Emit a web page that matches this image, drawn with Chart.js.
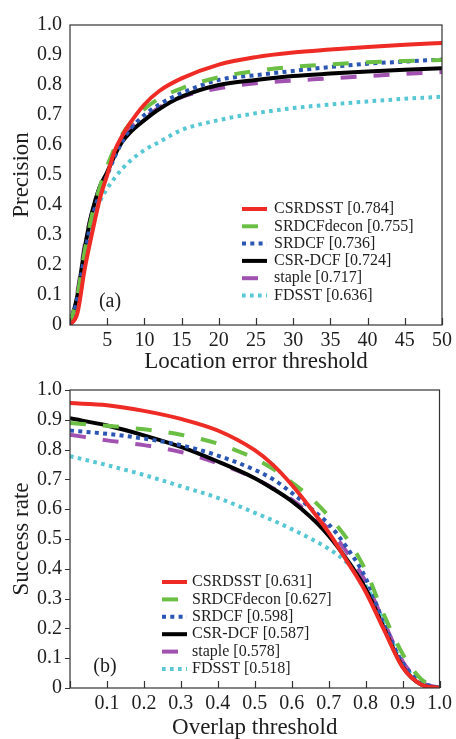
<!DOCTYPE html>
<html>
<head>
<meta charset="utf-8">
<script src="https://cdn.jsdelivr.net/npm/chart.js@4.4.0/dist/chart.umd.min.js"></script>
<style>
  html, body { margin: 0; padding: 0; background: #fff; }
  body { width: 456px; height: 739px; position: relative; overflow: hidden; }
  #wrapA { position: absolute; left: 0; top: 0; width: 456px; height: 378px; }
  #wrapB { position: absolute; left: 0; top: 370px; width: 456px; height: 369px; }
</style>
</head>
<body>
<div id="wrapA"><canvas id="precisionChart" width="456" height="378"></canvas></div>
<div id="wrapB"><canvas id="successChart" width="456" height="369"></canvas></div>
<script>
// trackers, in legend order
const trackers = ['CSRDSST', 'SRDCFdecon', 'SRDCF', 'CSR-DCF', 'staple', 'FDSST'];

// (a) precision plot
const precisionScores = ['0.784', '0.755', '0.736', '0.724', '0.717', '0.636'];
const errorThresholds = [0, 1, 2, 3, 4, 5, 6, 7, 8, 10, 12, 15, 20, 25, 30, 35, 40, 45, 50];
const precCSRDSST    = [0, 0.04, 0.19, 0.31, 0.42, 0.50, 0.58, 0.63, 0.67, 0.735, 0.78, 0.822, 0.868, 0.893, 0.908, 0.918, 0.927, 0.934, 0.940];
const precSRDCFdecon = [0, 0.10, 0.25, 0.37, 0.46, 0.53, 0.59, 0.635, 0.67, 0.72, 0.755, 0.789, 0.826, 0.847, 0.861, 0.869, 0.876, 0.880, 0.883];
const precSRDCF      = [0, 0.09, 0.24, 0.36, 0.44, 0.50, 0.56, 0.61, 0.65, 0.70, 0.735, 0.773, 0.817, 0.833, 0.847, 0.860, 0.871, 0.878, 0.885];
const precCSRDCF     = [0, 0.10, 0.26, 0.38, 0.46, 0.51, 0.565, 0.61, 0.64, 0.683, 0.72, 0.761, 0.800, 0.817, 0.830, 0.838, 0.845, 0.851, 0.856];
const precStaple     = [0, 0.11, 0.27, 0.38, 0.46, 0.51, 0.57, 0.62, 0.655, 0.69, 0.725, 0.760, 0.789, 0.806, 0.815, 0.822, 0.830, 0.837, 0.843];
const precFDSST      = [0, 0.09, 0.23, 0.34, 0.41, 0.455, 0.49, 0.52, 0.545, 0.583, 0.61, 0.650, 0.683, 0.706, 0.723, 0.735, 0.745, 0.754, 0.761];

// (b) success plot
const successScores = ['0.631', '0.627', '0.598', '0.587', '0.578', '0.518'];
const overlapThresholds = [0, 0.1, 0.2, 0.3, 0.4, 0.5, 0.55, 0.6, 0.65, 0.7, 0.75, 0.8, 0.85, 0.9, 0.95, 1.0];
const succCSRDSST    = [0.956, 0.949, 0.930, 0.903, 0.864, 0.798, 0.748, 0.682, 0.605, 0.522, 0.425, 0.323, 0.195, 0.070, 0.012, 0];
const succSRDCFdecon = [0.889, 0.880, 0.868, 0.850, 0.820, 0.770, 0.735, 0.690, 0.640, 0.577, 0.500, 0.395, 0.245, 0.115, 0.030, 0];
const succSRDCF      = [0.864, 0.853, 0.837, 0.815, 0.780, 0.732, 0.700, 0.655, 0.605, 0.550, 0.470, 0.370, 0.215, 0.085, 0.020, 0];
const succCSRDCF     = [0.905, 0.881, 0.848, 0.809, 0.760, 0.704, 0.668, 0.627, 0.575, 0.511, 0.430, 0.334, 0.200, 0.072, 0.012, 0];
const succStaple     = [0.850, 0.831, 0.815, 0.792, 0.754, 0.704, 0.670, 0.632, 0.585, 0.533, 0.455, 0.357, 0.220, 0.090, 0.020, 0];
const succFDSST      = [0.778, 0.748, 0.715, 0.677, 0.638, 0.588, 0.562, 0.533, 0.502, 0.467, 0.420, 0.345, 0.220, 0.082, 0.020, 0];

const serif = '"Liberation Serif", "DejaVu Serif", serif';
const ink = '#1e1e1e';

// line looks per tracker
const lineStyles = [
    { color: '#ee2b25', dash: [] },
    { color: '#6bbf45', dash: [16, 17] },
    { color: '#2b56b3', dash: [4, 4.3] },
    { color: '#000000', dash: [] },
    { color: '#a152b0', dash: [16, 17] },
    { color: '#56c7d3', dash: [3.6, 4.4] }
];

function makeDatasets(xs, series, scores) {
    return series.map((ys, i) => ({
        label: trackers[i] + ' [' + scores[i] + ']',
        data: xs.map((x, k) => ({ x: x, y: ys[k] })),
        borderColor: lineStyles[i].color,
        borderDash: lineStyles[i].dash,
        borderWidth: 4,
        borderCapStyle: 'butt',
        pointRadius: 0,
        fill: false,
        cubicInterpolationMode: 'monotone'
    }));
}

// box, inward x ticks, legend inside the plot and the panel tag
const framePlugin = {
    id: 'frame',
    afterDatasetsDraw(chart, args, opts) {
        const ctx = chart.ctx;
        const a = chart.chartArea;
        const xs = chart.scales.x;
        const ys = chart.scales.y;
        ctx.save();
        ctx.strokeStyle = '#333';
        ctx.lineWidth = 1.2;
        ctx.setLineDash([]);
        ctx.strokeRect(a.left, a.top, a.right - a.left, a.bottom - a.top);

        ctx.beginPath();
        xs.ticks.forEach(t => {
            const px = Math.round(xs.getPixelForValue(t.value)) + 0.5;
            ctx.moveTo(px, a.bottom);
            ctx.lineTo(px, a.bottom - opts.tickLen);
        });
        if (opts.yTickOut) {
            ys.ticks.forEach(t => {
                const py = Math.round(ys.getPixelForValue(t.value)) + 0.5;
                ctx.moveTo(a.left, py);
                ctx.lineTo(a.left - opts.yTickOut, py);
            });
        }
        ctx.stroke();

        // legend
        ctx.font = '16px ' + serif;
        ctx.textBaseline = 'middle';
        ctx.textAlign = 'left';
        chart.data.datasets.forEach((ds, i) => {
            const y = a.top + opts.legendY + i * opts.rowGap;
            const x0 = a.left + opts.legendX;
            ctx.strokeStyle = ds.borderColor;
            ctx.lineWidth = 4;
            ctx.lineCap = 'butt';
            ctx.setLineDash(ds.borderDash);
            ctx.beginPath();
            ctx.moveTo(x0, y);
            ctx.lineTo(x0 + 25, y);
            ctx.stroke();
            ctx.setLineDash([]);
            ctx.fillStyle = ink;
            ctx.fillText(ds.label, x0 + opts.textGap, y);
        });

        ctx.font = '20px ' + serif;
        ctx.textAlign = 'center';
        ctx.fillText(opts.tag, a.left + opts.tagX, a.top + opts.tagY);
        ctx.restore();
    }
};

function buildOptions(cfg) {
    return {
        responsive: false,
        animation: false,
        layout: { padding: cfg.padding },
        plugins: {
            legend: { display: false },
            tooltip: { enabled: false },
            frame: cfg.frame
        },
        scales: {
            x: {
                type: 'linear',
                min: cfg.xMin,
                max: cfg.xMax,
                grid: { display: false, drawTicks: false },
                border: { display: false },
                ticks: {
                    stepSize: cfg.xStep,
                    autoSkip: false,
                    maxRotation: 0,
                    padding: 4,
                    color: ink,
                    font: { family: serif, size: 20 },
                    callback: cfg.xLabel
                },
                title: {
                    display: true,
                    text: cfg.xTitle,
                    color: ink,
                    font: { family: serif, size: 23, lineHeight: 1 },
                    padding: { top: 0, bottom: cfg.xTitlePad }
                },
                afterFit: s => { s.height = cfg.xHeight; }
            },
            y: {
                min: 0,
                max: 1,
                grid: { display: false, drawTicks: false },
                border: { display: false },
                ticks: {
                    stepSize: 0.1,
                    padding: 8,
                    color: ink,
                    font: { family: serif, size: 20 },
                    callback: v => v === 0 ? '0' : Number(v).toFixed(1)
                },
                title: {
                    display: true,
                    text: cfg.yTitle,
                    color: ink,
                    font: { family: serif, size: 23, lineHeight: 1 },
                    padding: { top: 10.5, bottom: 0 }
                },
                afterFit: s => { s.width = 70; }
            }
        }
    };
}

new Chart(document.getElementById('precisionChart').getContext('2d'), {
    type: 'line',
    data: {
        datasets: makeDatasets(errorThresholds,
            [precCSRDSST, precSRDCFdecon, precSRDCF, precCSRDCF, precStaple, precFDSST],
            precisionScores)
    },
    options: buildOptions({
        padding: { top: 25, right: 12, left: 0, bottom: 0 },
        xMin: 0, xMax: 50, xStep: 5,
        xLabel: v => v === 0 ? '' : String(v),
        xTitle: 'Location error threshold',
        xTitlePad: 4.5,
        xHeight: 53,
        yTitle: 'Precision',
        frame: { tickLen: 7, yTickOut: 0, legendX: 172, legendY: 184, rowGap: 17.3, textGap: 32, tag: '(a)', tagX: 40, tagY: 277 }
    }),
    plugins: [framePlugin]
});

new Chart(document.getElementById('successChart').getContext('2d'), {
    type: 'line',
    data: {
        datasets: makeDatasets(overlapThresholds,
            [succCSRDSST, succSRDCFdecon, succSRDCF, succCSRDCF, succStaple, succFDSST],
            successScores)
    },
    options: buildOptions({
        padding: { top: 16, right: 11, left: 0, bottom: 0 },
        xMin: 0, xMax: 1, xStep: 0.1,
        xLabel: v => v === 0 ? '' : Number(v).toFixed(1),
        xTitle: 'Overlap threshold',
        xTitlePad: 0,
        xHeight: 51,
        yTitle: 'Success rate',
        frame: { tickLen: 7, yTickOut: 5, legendX: 92, legendY: 192, rowGap: 17.4, textGap: 30, tag: '(b)', tagX: 35, tagY: 277 }
    }),
    plugins: [framePlugin]
});
</script>
</body>
</html>
